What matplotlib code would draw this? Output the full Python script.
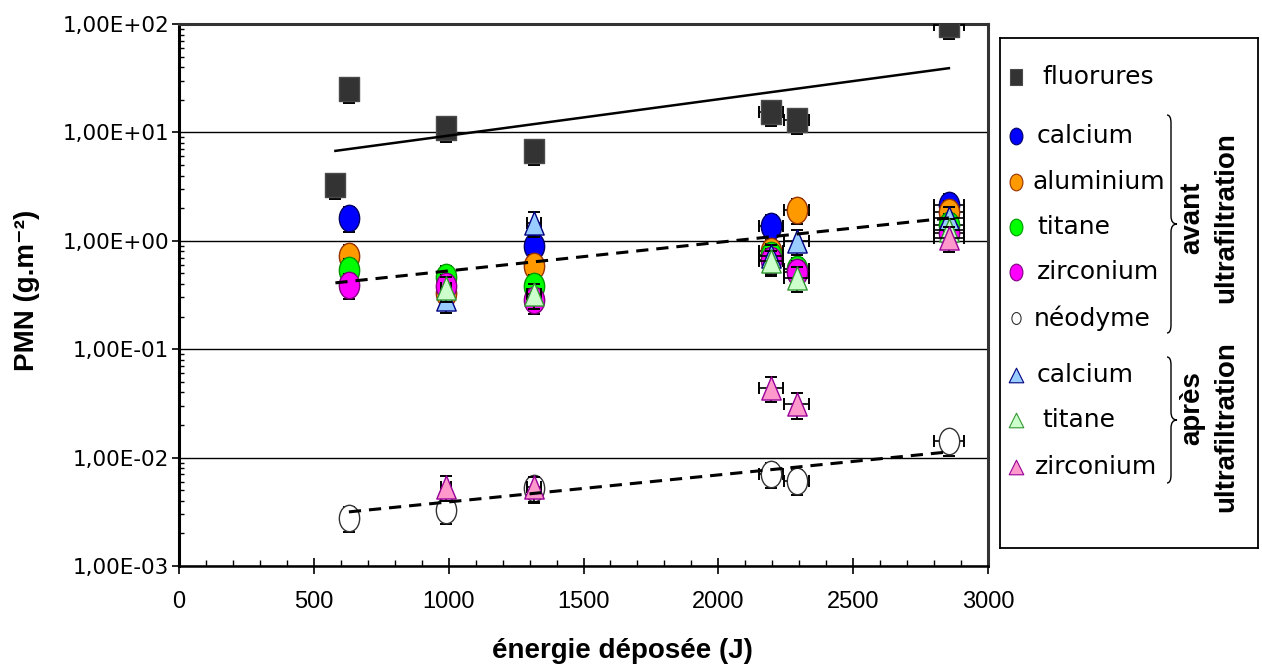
import numpy as np
import matplotlib
matplotlib.use('Agg')
import matplotlib.pyplot as plt
from matplotlib.path import Path
from matplotlib.patches import PathPatch
from matplotlib.ticker import FuncFormatter, MultipleLocator, LogLocator, NullFormatter

nan = np.nan

# energie deposee (J)
energie = [630, 990, 1315, 2195, 2290, 2855]
fluorures_x = [580, 630, 990, 1315, 2195, 2290, 2855]

# PMN (g.m-2)
fluorures = [3.3, 25, 11, 6.8, 15.5, 13, 98]
calcium_avant = [1.63, nan, 0.90, 1.36, nan, 2.15]
aluminium_avant = [0.73, 0.33, 0.59, 0.80, 1.93, 1.86]
titane_avant = [0.54, 0.46, 0.38, 0.74, 0.55, 1.40]
zirconium_avant = [0.39, 0.38, 0.286, 0.67, 0.52, 1.19]
neodyme_avant = [0.0028, 0.0033, 0.0052, 0.0071, 0.0061, 0.0141]
calcium_apres = [nan, 0.29, 1.47, 0.72, 0.99, 1.62]
titane_apres = [nan, 0.37, 0.32, 0.645, 0.456, 1.26]
zirconium_apres = [nan, 0.0054, 0.0053, 0.044, 0.031, 1.07]

# relative error bars
err_y = 0.26
err_x = 0.02

# exponential trend lines y = a * exp(b * x)
trend_avant = (0.288, 0.000606)
trend_avant_range = (580, 2855)
trend_neodyme = (0.0022, 0.000573)
trend_neodyme_range = (630, 2855)

x_ticks = [0, 500, 1000, 1500, 2000, 2500, 3000]
legend_labels = ['fluorures', 'calcium', 'aluminium', 'titane', 'zirconium',
                 'néodyme', 'calcium', 'titane', 'zirconium']

plt.rcParams['font.family'] = ['DejaVu Sans']
bold_family = ['Liberation Sans', 'DejaVu Sans']
xtick_family = ['Liberation Sans', 'DejaVu Sans']

# marker shapes
circ = Path.unit_circle()
ellipse = Path(circ.vertices * [0.77, 1.0], circ.codes)
square = Path([(-0.4, -0.5), (0.4, -0.5), (0.4, 0.5), (-0.4, 0.5), (-0.4, -0.5)],
              [1, 2, 2, 2, 79])
triangle = Path([(-0.42, -0.5), (0.42, -0.5), (0, 0.5), (-0.42, -0.5)], [1, 2, 2, 79])
triangle_leg = Path([(-0.5, -0.5), (0.5, -0.5), (0, 0.5), (-0.5, -0.5)], [1, 2, 2, 79])

# x, y, marker, size, face, edge, legend marker, legend size
series = [
    (fluorures_x, fluorures, square, 17.3, '#333333', '#4a4a4a', square, 11),
    (energie, calcium_avant, ellipse, 19, '#0000ff', '#000066', ellipse, 12),
    (energie, aluminium_avant, ellipse, 19, '#ff9900', '#993300', ellipse, 12),
    (energie, titane_avant, ellipse, 19, '#00ff00', '#009900', ellipse, 12),
    (energie, zirconium_avant, ellipse, 19, '#ff00ff', '#800080', ellipse, 12),
    (energie, neodyme_avant, ellipse, 19, 'white', '#333333', ellipse, 8.6),
    (energie, calcium_apres, triangle, 16.6, '#99ccff', '#000080', triangle_leg, 10.5),
    (energie, titane_apres, triangle, 16.6, '#ccffcc', '#339933', triangle_leg, 10.5),
    (energie, zirconium_apres, triangle, 16.6, '#ff99cc', '#990099', triangle_leg, 10.5),
]

fig = plt.figure(figsize=(12.62, 6.68), dpi=100)
ax = fig.add_axes([179 / 1262, 1 - 566 / 668, 809 / 1262, 542 / 668])
ax.set_yscale('log')
ax.set_ylim(1e-3, 1e2)
ax.set_xlim(0, 3000)

for i, (xs, ys, m, ms, fc, ec, _, _) in enumerate(series):
    x = np.array(xs, float)
    y = np.array(ys, float)
    ax.errorbar(x, y, yerr=err_y * y, xerr=err_x * x, fmt='none', ecolor='black',
                elinewidth=1.2, capsize=4, capthick=1.4, zorder=3 + 2 * i)
    ax.plot(x, y, ls='none', marker=m, ms=ms, mfc=fc, mec=ec, mew=1.0, zorder=4 + 2 * i)

# trend lines
fx = np.array(fluorures_x, float)
coef = np.polyfit(fx, np.log10(fluorures), 1)
xl = np.linspace(fx.min(), fx.max(), 50)
ax.plot(xl, 10 ** np.polyval(coef, xl), color='black', lw=1.8, zorder=50)

for (a, b), (x0, x1) in [(trend_avant, trend_avant_range), (trend_neodyme, trend_neodyme_range)]:
    xl = np.linspace(x0, x1, 50)
    ax.plot(xl, a * np.exp(b * xl), color='black', lw=2.2, ls=(0, (4, 2.6)), zorder=50)

# axes styling
ax.yaxis.grid(True, which='major', color='black', lw=1.0)
ax.set_axisbelow(True)
ax.yaxis.set_major_locator(LogLocator(base=10, numticks=10))
ax.yaxis.set_minor_locator(LogLocator(base=10, subs=np.arange(2, 10), numticks=20))
ax.yaxis.set_minor_formatter(NullFormatter())
ax.yaxis.set_major_formatter(FuncFormatter(lambda v, p: f"{v:.2E}".replace('.', ',')))
ax.tick_params(axis='y', which='major', direction='out', length=5, width=1.2,
               labelsize=15.5, pad=2)
ax.tick_params(axis='y', which='minor', direction='in', length=3.6, width=1)

ax.set_xticks(x_ticks)
ax.set_xticklabels([str(t) for t in x_ticks], fontfamily=xtick_family, fontsize=17)
ax.xaxis.set_minor_locator(MultipleLocator(100))
ax.tick_params(axis='x', which='major', direction='inout', length=12, width=1.2, pad=12)
ax.tick_params(axis='x', which='minor', direction='in', length=4.5, width=1)

ax.spines['left'].set_linewidth(2.2)
ax.spines['bottom'].set_linewidth(1.8)
for s in ['top', 'right']:
    ax.spines[s].set_linewidth(2.2)
    ax.spines[s].set_color('#333333')

fig.text(27 / 1262, 1 - 290 / 668, 'PMN (g.m⁻²)', rotation=90, ha='center', va='center',
         fontsize=20, fontweight='bold', family=bold_family)
fig.text(622 / 1262, 1 - 651 / 668, 'énergie déposée (J)', ha='center', va='center',
         fontsize=20, fontweight='bold', family=bold_family)

# legend box, in pixel units of the figure
lx = fig.add_axes([1000 / 1262, 1 - 548 / 668, 258 / 1262, 510 / 668])
lx.set_xlim(1000, 1258)
lx.set_ylim(548, 38)
lx.set_xticks([])
lx.set_yticks([])
for s in lx.spines.values():
    s.set_linewidth(1.3)
    s.set_color('black')

leg_y = [77, 136, 182, 227, 272, 318, 375, 420, 467]
leg_tx = [1042, 1037, 1032, 1037, 1037, 1034, 1037, 1042, 1035]
for (xs, ys, m, ms, fc, ec, lm, lms), yy, tx, lab in zip(series, leg_y, leg_tx, legend_labels):
    lx.plot([1016], [yy], ls='none', marker=lm, ms=lms, mfc=fc, mec=ec, mew=0.8)
    lx.text(tx, yy, lab, ha='left', va='center', fontsize=18)


def brace(axis, x0, y0, y1, w=10):
    xm = x0 + w * 0.4
    ym = (y0 + y1) / 2
    r = 8
    verts = [(x0, y0), (xm, y0), (xm, y0 + r),
             (xm, ym - r), (xm, ym), (x0 + w, ym),
             (xm, ym), (xm, ym + r), (xm, y1 - r),
             (xm, y1), (x0, y1)]
    codes = [Path.MOVETO, Path.CURVE3, Path.CURVE3,
             Path.LINETO, Path.CURVE3, Path.CURVE3,
             Path.CURVE3, Path.CURVE3, Path.LINETO,
             Path.CURVE3, Path.CURVE3]
    axis.add_patch(PathPatch(Path(verts, codes), fill=False, lw=1.0, color='black'))


brace(lx, 1167, 115, 333)
brace(lx, 1167, 357, 483)
lx.text(1192, 218, 'avant', rotation=90, ha='center', va='center', fontsize=20,
        fontweight='bold', family=bold_family)
lx.text(1226, 218, 'ultrafiltration', rotation=90, ha='center', va='center', fontsize=20,
        fontweight='bold', family=bold_family)
lx.text(1192, 408, 'après', rotation=90, ha='center', va='center', fontsize=20,
        fontweight='bold', family=bold_family)
lx.text(1226, 427, 'ultrafiltration', rotation=90, ha='center', va='center', fontsize=20,
        fontweight='bold', family=bold_family)

fig.savefig('out.png', dpi=100)
